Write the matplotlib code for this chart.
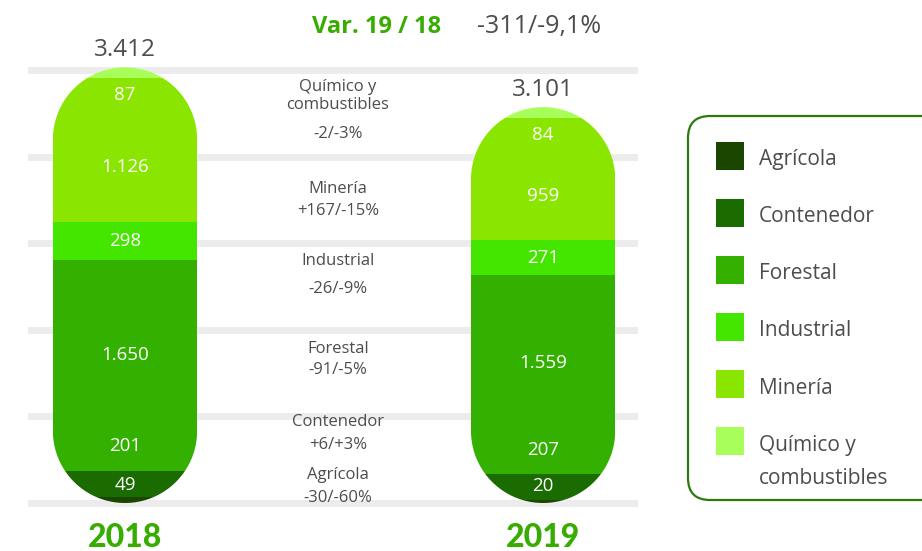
import numpy as np
import matplotlib
matplotlib.use("Agg")
import matplotlib.pyplot as plt
from matplotlib.patches import Polygon, FancyBboxPatch, Rectangle
from matplotlib.transforms import IdentityTransform

# Data
years = ["2018", "2019"]
categories = ["Agrícola", "Contenedor", "Forestal", "Industrial", "Minería", "Químico y\ncombustibles"]
vals_2018 = [49, 201, 1650, 298, 1126, 87]
vals_2019 = [20, 207, 1559, 271, 959, 84]
totals = [3412, 3101]
changes = ["-30/-60%", "+6/+3%", "-91/-5%", "-26/-9%", "+167/-15%", "-2/-3%"]
var_title = "Var. 19 / 18"
var_total = "-311/-9,1%"

colors = ["#1a4600", "#1a6b00", "#33b000", "#44e600", "#8ae600", "#a8ff5a"]
green = "#36ad00"
gray = "#4d4d4d"

plt.rcParams['font.family'] = ['Open Sans', 'DejaVu Sans']

W, H = 922, 551
fig = plt.figure(figsize=(W / 100, H / 100), dpi=100)


def fx(px):
    return px / W


def fy(py):
    return 1 - py / H


def fmt(v):
    return f"{v:,}".replace(",", ".")


# axes covering the grid area, zero line at pixel row 503
ax = fig.add_axes([fx(28), fy(513), 610 / W, 513 / H])
per_px = 7.83
ax.set_ylim(-10 * per_px, 503 * per_px)
ax.set_xlim(-0.232, 1.227)
ax.set_yticks(np.linspace(0, 433 * per_px, 6))
ax.grid(axis='y', color='#ececec', linewidth=5)
ax.set_axisbelow(True)
ax.tick_params(left=False, bottom=False, labelleft=False, labelbottom=False)
for s in ax.spines.values():
    s.set_visible(False)

x = np.arange(len(years))
bw = 0.345
p0 = ax.transData.transform((0, 0))
p1 = ax.transData.transform((1, 1))
asp = (p1[0] - p0[0]) / (p1[1] - p0[1])


def capsule(xc, top):
    r = bw / 2
    ry = r * asp
    t = np.linspace(0, np.pi, 80)
    upper = np.column_stack([xc + r * np.cos(t), top - ry + ry * np.sin(t)])
    lower = np.column_stack([xc - r * np.cos(t), ry - ry * np.sin(t)])
    return Polygon(np.vstack([upper, lower]), closed=True, facecolor='none', edgecolor='none')


label_dy = [11, 27, 8, 0, -12, -16]  # points, nudges for the value labels

for xi, vals, tot, yr in zip(x, [vals_2018, vals_2019], totals, years):
    vals = np.array(vals)
    bottoms = np.concatenate([[0], np.cumsum(vals)[:-1]])
    clip = capsule(xi, vals.sum())
    ax.add_patch(clip)
    bars = ax.bar(np.full(len(vals), xi), vals, bottom=bottoms, width=bw,
                  color=colors, linewidth=0, zorder=2)
    for b, v, dy in zip(bars, vals, label_dy):
        b.set_clip_path(clip)
        ax.annotate(fmt(v), (xi, b.get_y() + b.get_height() / 2), xytext=(0, dy),
                    textcoords='offset points', ha='center', va='center',
                    color='white', fontsize=13.5, zorder=3)
    ax.annotate(fmt(tot), (xi, vals.sum()), xytext=(0, 4), textcoords='offset points',
                ha='center', va='bottom', color=gray, fontsize=17.5)
    ax.annotate(yr, (xi, 0), xytext=(0, -25), textcoords='offset points',
                ha='center', va='center', color=green, fontsize=23,
                fontweight='black', family=['Lato', 'DejaVu Sans'], annotation_clip=False)

# middle column: category name and change
name_y = [475, 422, 349, 261, 189, 96]
var_y = [498, 445, 370, 289, 211, 134]
for cat, ch, ny, vy in zip(categories, changes, name_y, var_y):
    fig.text(fx(338), fy(ny), cat, ha='center', va='center', color=gray,
             fontsize=12, linespacing=1.1)
    fig.text(fx(338), fy(vy), ch, ha='center', va='center', color=gray, fontsize=12)

# header
fig.text(fx(377), fy(27), var_title, ha='center', va='center', color=green,
         fontsize=17, fontweight='bold')
fig.text(fx(539), fy(27), var_total, ha='center', va='center', color=gray, fontsize=18)

# legend box
frame = FancyBboxPatch((688, H - 500), 280, 384, boxstyle="round,pad=0,rounding_size=22",
                       facecolor='white', edgecolor='#2b7a0b', linewidth=1.6,
                       transform=IdentityTransform())
fig.add_artist(frame)
for i, (cat, col) in enumerate(zip(categories, colors)):
    top = 142 + 57 * i
    fig.add_artist(Rectangle((716, H - top - 28), 28, 28, facecolor=col, edgecolor='none',
                             transform=IdentityTransform()))
    nlines = cat.count("\n") + 1
    fig.text(fx(759), fy(top + 18 + (nlines - 1) * 17), cat, ha='left', va='center',
             color=gray, fontsize=15, linespacing=1.7)

fig.savefig("out.png", dpi=100)
